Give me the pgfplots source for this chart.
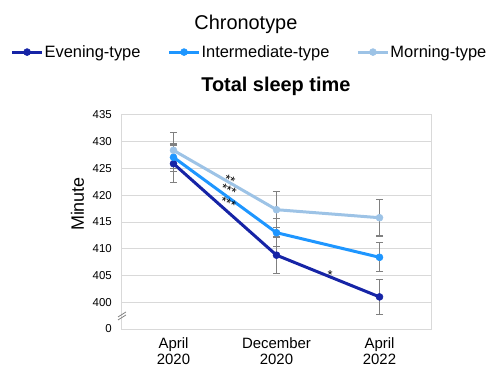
\documentclass[border=0pt]{standalone}
\usepackage{pgfplots}
\pgfplotsset{compat=1.18}
\usepackage{fontspec}
\setmainfont{Liberation Sans}
\definecolor{evening}{RGB}{22,36,166}
\definecolor{intermediate}{RGB}{30,150,255}
\definecolor{morning}{RGB}{157,195,230}
\definecolor{gridgray}{RGB}{217,217,217}
\definecolor{errgray}{RGB}{128,128,128}
\begin{document}
\begin{tikzpicture}
\begin{axis}[
  at={(0,0)}, anchor=south west,
  scale only axis, width=309bp, height=214bp,
  clip=false,
  xmin=-0.5, xmax=2.5, ymin=395, ymax=435,
  xtick={0,1,2},
  xticklabels={{April\\2020},{December\\2020},{April\\2022}},
  xticklabel style={align=center, font=\fontsize{15}{17}\selectfont, anchor=north, inner sep=0pt, yshift=-8bp},
  ytick={395,400,...,435},
  yticklabels={0,400,405,410,415,420,425,430,435},
  yticklabel style={font=\fontsize{11.5}{13}\selectfont, anchor=east, inner sep=0pt, xshift=-10bp},
  /pgf/number format/assume math mode=true,
  major tick length=0pt,
  ymajorgrids,
  grid style={draw=gridgray, line width=1bp},
  axis line style={draw=gridgray, line width=1bp},
  ylabel={Minute},
  ylabel style={at={(axis description cs:-0.144,0.584)}, anchor=center, font=\fontsize{18}{20}\selectfont},
  title={Total sleep time},
  title style={at={(axis description cs:0.498,1.107)}, anchor=center, font=\bfseries\fontsize{20}{24}\selectfont},
  legend columns=3,
  legend style={at={(axis description cs:0.411,1.294)}, anchor=center, draw=none, fill=none,
    font=\fontsize{16.5}{19}\selectfont,
    /tikz/every even column/.append style={column sep=26bp},
    nodes={inner sep=1bp}},
  legend image code/.code={\draw[mark repeat=2, mark phase=2, #1] plot coordinates {(0bp,0bp) (15bp,0bp) (30bp,0bp)};},
  every axis plot/.append style={line width=3bp},
]
\addplot[evening, mark=*, mark size=3.5bp, mark options={solid, fill=evening, draw=evening, line width=0.5bp},
  error bars/.cd, y dir=both, y explicit,
  error bar style={errgray, line width=1.2bp},
  error mark options={rotate=90, errgray, mark size=3.5bp, line width=1.2bp}]
  coordinates {(0,425.9) +- (0,3.5) (1,408.8) +- (0,3.4) (2,401.0) +- (0,3.3)};
\addlegendentry{Evening-type}
\addplot[intermediate, mark=*, mark size=3.5bp, mark options={solid, fill=intermediate, draw=intermediate, line width=0.5bp},
  error bars/.cd, y dir=both, y explicit,
  error bar style={errgray, line width=1.2bp},
  error mark options={rotate=90, errgray, mark size=3.5bp, line width=1.2bp}]
  coordinates {(0,427.1) +- (0,2.6) (1,413.0) +- (0,2.6) (2,408.4) +- (0,2.7)};
\addlegendentry{Intermediate-type}
\addplot[morning, mark=*, mark size=3.5bp, mark options={solid, fill=morning, draw=morning, line width=0.5bp},
  error bars/.cd, y dir=both, y explicit,
  error bar style={errgray, line width=1.2bp},
  error mark options={rotate=90, errgray, mark size=3.5bp, line width=1.2bp}]
  coordinates {(0,428.4) +- (0,3.4) (1,417.3) +- (0,3.4) (2,415.8) +- (0,3.4)};
\addlegendentry{Morning-type}
\node[font=\fontsize{20}{24}\selectfont] at (axis description cs:0.401,1.425) {Chronotype};
\node[font=\fontsize{13}{14}\selectfont, rotate=-22, yshift=-2.5bp, inner sep=0pt] at (axis cs:0.556,423.3) {**};
\node[font=\fontsize{13}{14}\selectfont, rotate=-22, yshift=-2.5bp, inner sep=0pt] at (axis cs:0.545,421.3) {***};
\node[font=\fontsize{13}{14}\selectfont, rotate=-22, yshift=-2.5bp, inner sep=0pt] at (axis cs:0.54,418.9) {***};
\node[font=\fontsize{13}{14}\selectfont, yshift=-2.5bp, inner sep=0pt] at (axis cs:1.52,405.6) {*};
\draw[errgray, line width=0.8bp] (axis description cs:0,0.061) ++(-4bp,-4bp) -- ++(8bp,5bp);
\draw[errgray, line width=0.8bp] (axis description cs:0,0.061) ++(-4bp,-1bp) -- ++(8bp,5bp);
\end{axis}
\pgfresetboundingbox
\path (-122bp,-38bp) rectangle (366bp,329bp);
\end{tikzpicture}
\end{document}
